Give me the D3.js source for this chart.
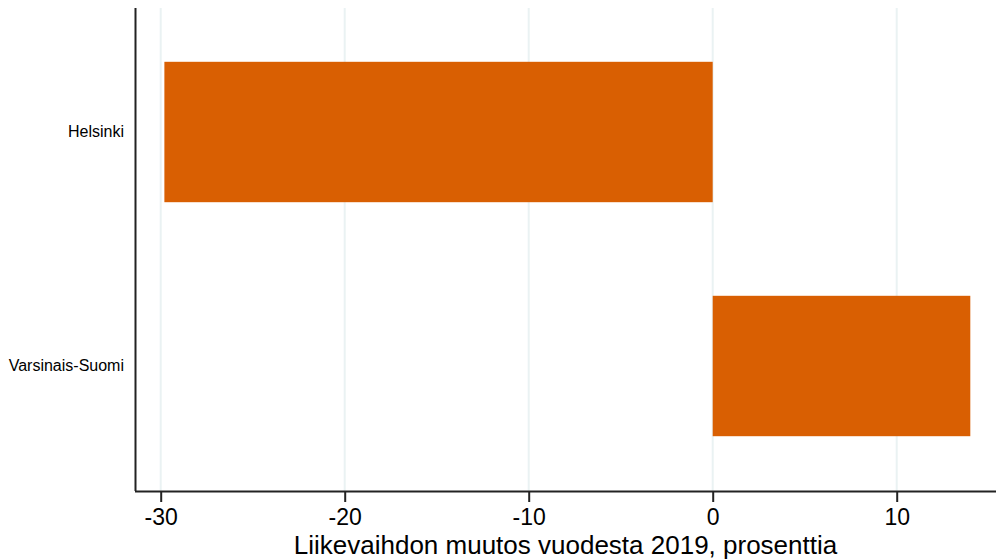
<!DOCTYPE html>
<html lang="fi">
<head>
    <meta charset="UTF-8">
    <script src="https://d3js.org/d3.v7.min.js"></script>
    <style>
        body { margin: 0; background: #fff; font-family: Arial, "Liberation Sans", sans-serif; }
        svg { display: block; }
    </style>
</head>
<body>
    <div id="chart"></div>
    <script>
        const regions = ["Helsinki", "Varsinais-Suomi"];
        const changes = [-29.8, 14.0];
        const xTicks = [-30, -20, -10, 0, 10];
        const xTitle = "Liikevaihdon muutos vuodesta 2019, prosenttia";

        const data = regions.map((r, i) => ({ region: r, value: changes[i] }));

        const width = 996, height = 560;
        const margin = { top: 8, right: 0, bottom: 69, left: 135 };
        const zeroX = 712.7, pxPerUnit = 18.4;

        const x = d3.scaleLinear()
            .domain([(margin.left - zeroX) / pxPerUnit, (width - zeroX) / pxPerUnit])
            .range([margin.left, width]);

        const y = d3.scaleBand()
            .domain(regions)
            .range([15, 483])
            .paddingInner(0.4)
            .paddingOuter(0.2);

        const svg = d3.select("#chart").append("svg")
            .attr("width", width)
            .attr("height", height);

        const axisY = height - margin.bottom;

        // gridlines
        svg.append("g")
            .selectAll("line")
            .data(xTicks)
            .enter().append("line")
            .attr("x1", d => x(d)).attr("x2", d => x(d))
            .attr("y1", margin.top).attr("y2", axisY)
            .attr("stroke", "#eaf2f3")
            .attr("stroke-width", 2);

        // bars
        svg.append("g")
            .selectAll("rect")
            .data(data)
            .enter().append("rect")
            .attr("x", d => x(Math.min(0, d.value)))
            .attr("width", d => Math.abs(x(d.value) - x(0)))
            .attr("y", d => y(d.region))
            .attr("height", y.bandwidth())
            .attr("fill", "#d95f02");

        // x axis
        const gx = svg.append("g")
            .attr("transform", `translate(0,${axisY})`)
            .call(d3.axisBottom(x).tickValues(xTicks).tickSize(11).tickPadding(7).tickFormat(d => String(d)));
        gx.select(".domain")
            .attr("d", `M${margin.left},0.5H${width}`)
            .attr("stroke", "#222")
            .attr("stroke-width", 2);
        gx.selectAll(".tick line").attr("stroke", "#222").attr("stroke-width", 2);
        gx.selectAll(".tick text")
            .attr("fill", "#000")
            .style("font-family", "Arial, 'Liberation Sans', sans-serif")
            .style("font-size", "23px");

        // y axis
        const gy = svg.append("g")
            .attr("transform", `translate(${margin.left},0)`)
            .call(d3.axisLeft(y).tickSize(0).tickPadding(11));
        gy.select(".domain")
            .attr("d", `M0.5,${margin.top}V${axisY}`)
            .attr("stroke", "#222")
            .attr("stroke-width", 2);
        gy.selectAll(".tick text")
            .attr("fill", "#000")
            .style("font-family", "Arial, 'Liberation Sans', sans-serif")
            .style("font-size", "16px");

        svg.append("text")
            .attr("x", (margin.left + width) / 2)
            .attr("y", 554)
            .attr("text-anchor", "middle")
            .attr("fill", "#000")
            .style("font-size", "26px")
            .text(xTitle);
    </script>
</body>
</html>
